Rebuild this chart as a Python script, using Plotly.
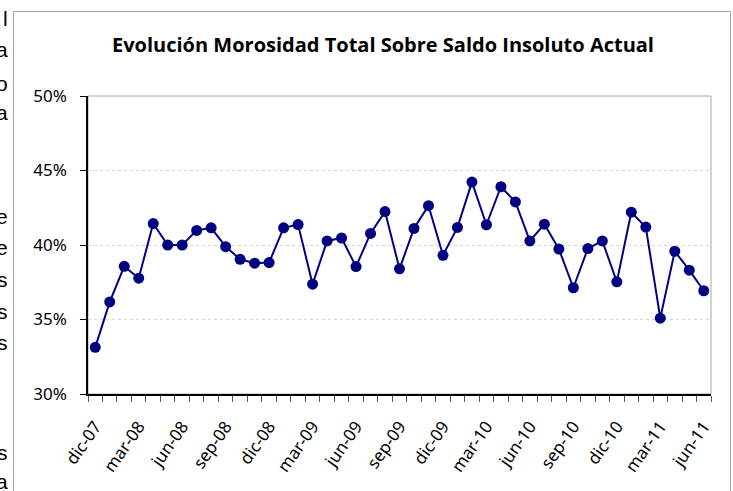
import plotly.graph_objects as go

months = ["dic-07", "ene-08", "feb-08", "mar-08", "abr-08", "may-08", "jun-08", "jul-08",
          "ago-08", "sep-08", "oct-08", "nov-08", "dic-08", "ene-09", "feb-09", "mar-09",
          "abr-09", "may-09", "jun-09", "jul-09", "ago-09", "sep-09", "oct-09", "nov-09",
          "dic-09", "ene-10", "feb-10", "mar-10", "abr-10", "may-10", "jun-10", "jul-10",
          "ago-10", "sep-10", "oct-10", "nov-10", "dic-10", "ene-11", "feb-11", "mar-11",
          "abr-11", "may-11", "jun-11"]

morosidad = [33.13, 36.18, 38.57, 37.77, 41.44, 40.00, 40.00, 40.98, 41.15, 39.89,
             39.04, 38.78, 38.82, 41.15, 41.37, 37.37, 40.27, 40.47, 38.55, 40.78,
             42.24, 38.40, 41.11, 42.64, 39.31, 41.18, 44.22, 41.36, 43.91, 42.89,
             40.27, 41.40, 39.73, 37.13, 39.76, 40.27, 37.53, 42.20, 41.20, 35.09,
             39.58, 38.31, 36.93]

label_step = 3
tick_text = [m if i % label_step == 0 else "" for i, m in enumerate(months)]

y_ticks = [0.30, 0.35, 0.40, 0.45, 0.50]

side_letters = [("l", 18), ("a", 50), ("o", 83), ("a", 112), ("e", 216), ("e", 248),
                ("s", 279), ("s", 311), ("s", 342), ("s", 452), ("a", 481)]

W, H = 733, 491
L, R, T, B = 88, 22, 96, 97
pw, ph = W - L - R, H - T - B

def px(x):
    return (x - L) / pw

def py(y):
    return (H - B - y) / ph

fig = go.Figure()
fig.add_trace(go.Scatter(
    x=months, y=[v / 100 for v in morosidad],
    mode="lines+markers",
    line=dict(color="#000080", width=2),
    marker=dict(color="#000080", size=11),
    showlegend=False, cliponaxis=False,
))

shapes = [
    dict(type="rect", xref="paper", yref="paper", x0=0, x1=1, y0=0, y1=1,
         line=dict(color="#a6a6a6", width=1), layer="below"),
    dict(type="rect", xref="paper", yref="paper", x0=px(13.5), x1=px(730.5),
         y0=py(500), y1=py(11.5), line=dict(color="#a6a6a6", width=1), layer="below"),
]

annotations = [
    dict(text=ch, xref="paper", yref="paper", x=px(10), y=py(yy), xanchor="right",
         yanchor="middle", showarrow=False,
         font=dict(family="Liberation Sans", size=21, color="#000"))
    for ch, yy in side_letters
]

fig.update_layout(
    width=W, height=H,
    margin=dict(l=L, r=R, t=T, b=B, pad=0),
    paper_bgcolor="white", plot_bgcolor="white",
    title=dict(text="<b>Evolución Morosidad Total Sobre Saldo Insoluto Actual</b>",
               x=px(383), xref="paper", xanchor="center",
               y=1 - 45 / H, yref="container", yanchor="middle",
               font=dict(family="Open Sans", size=20, color="#000")),
    font=dict(family="Noto Sans", size=17, color="#000"),
    shapes=shapes,
    annotations=annotations,
    xaxis=dict(
        type="category", categoryorder="array", categoryarray=months,
        range=[-0.5, len(months) - 0.5],
        tickmode="array", tickvals=months, ticktext=tick_text,
        tickson="boundaries", ticks="outside", ticklen=6, tickcolor="#555",
        tickangle=-55, showgrid=False, showline=True, linecolor="#000", linewidth=1.5,
        tickfont=dict(family="Noto Sans", size=17, color="#000"), zeroline=False,
        ticklabelstandoff=14, automargin=False,
    ),
    yaxis=dict(
        range=[0.30, 0.50], tickmode="array", tickvals=y_ticks, tickformat=".0%",
        ticks="outside", ticklen=6, tickcolor="#000",
        showgrid=True, gridcolor="#d4d4d4", griddash="dot", gridwidth=1,
        showline=True, linecolor="#000", linewidth=1.5, zeroline=False,
        ticklabelstandoff=10, automargin=False,
        tickfont=dict(family="Noto Sans", size=17, color="#000"),
    ),
)

fig.write_html("out.html", config={"displayModeBar": False},
               post_script="document.body.style.margin='0';document.body.style.overflow='hidden';")
